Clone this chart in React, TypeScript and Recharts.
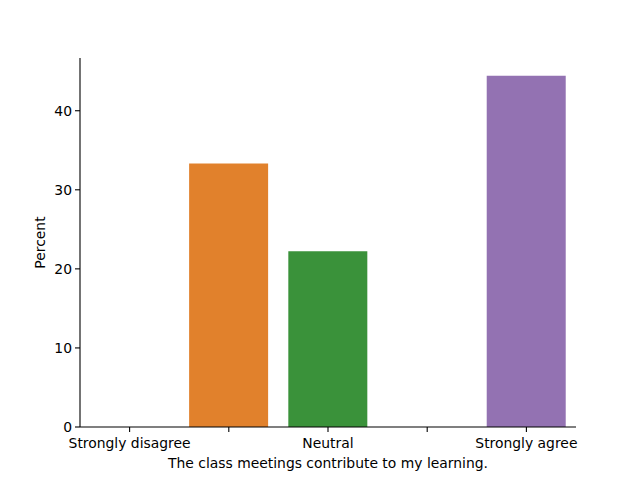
import React from 'react';
import { BarChart, Bar, XAxis, YAxis, Cell, Label } from 'recharts';

const categories = ['Strongly disagree', 'Disagree', 'Neutral', 'Agree', 'Strongly agree'];
const percents = [0, 33.33, 22.22, 0, 44.44];
const barColors = ['#3274a1', '#e1812c', '#3a923a', '#c03d3e', '#9372b2'];
// only every other category label is drawn in the original figure
const shownLabels = ['Strongly disagree', '', 'Neutral', '', 'Strongly agree'];
const yTicks = [0, 10, 20, 30, 40];

const data = categories.map((name, i) => ({ name, percent: percents[i] }));

const font = 'DejaVu Sans, sans-serif';
const tickStyle = { fontSize: 13.9, fill: '#000', fontFamily: font };

export default function App() {
    return (
        <div style={{ position: 'absolute', left: 0, top: 0, width: 640, height: 480, background: '#fff' }}>
            <BarChart
                width={640}
                height={480}
                data={data}
                margin={{ top: 58, right: 64, left: 30, bottom: 23 }}
                barCategoryGap="10%"
            >
                <XAxis
                    dataKey="name"
                    height={30}
                    axisLine={{ stroke: '#000', strokeWidth: 1.1 }}
                    tickLine={{ stroke: '#000', strokeWidth: 1.1 }}
                    tickSize={5}
                    tickMargin={6}
                    interval={0}
                    tick={tickStyle}
                    tickFormatter={(_v: string, i: number) => shownLabels[i]}
                >
                    <Label
                        value="The class meetings contribute to my learning."
                        position="insideBottom"
                        offset={-11}
                        style={{ fontSize: 13.9, fill: '#000', fontFamily: font }}
                    />
                </XAxis>
                <YAxis
                    width={50}
                    domain={[0, 46.67]}
                    ticks={yTicks}
                    allowDataOverflow
                    axisLine={{ stroke: '#000', strokeWidth: 1.1 }}
                    tickLine={{ stroke: '#000', strokeWidth: 1.1 }}
                    tickSize={5}
                    tickMargin={3}
                    tick={tickStyle}
                >
                    <Label
                        value="Percent"
                        angle={-90}
                        position="insideLeft"
                        offset={10}
                        style={{ fontSize: 13.9, fill: '#000', fontFamily: font, textAnchor: 'middle' }}
                    />
                </YAxis>
                <Bar dataKey="percent" isAnimationActive={false}>
                    {data.map((d, i) => (
                        <Cell key={d.name} fill={barColors[i]} />
                    ))}
                </Bar>
            </BarChart>
        </div>
    );
}
